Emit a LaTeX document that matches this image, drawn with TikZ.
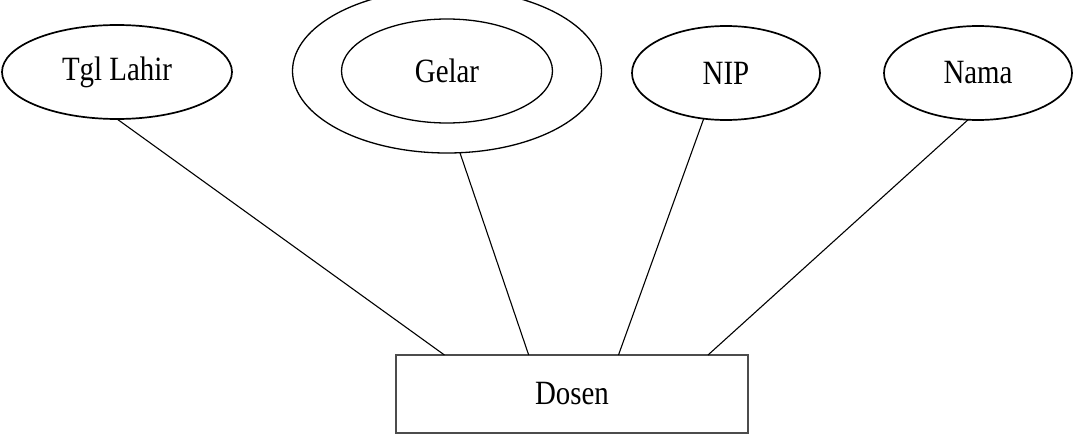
\documentclass[tikz,border=0pt]{standalone}
\usepackage{fontspec}
\setmainfont{Liberation Serif}[FakeStretch=0.85]
\usetikzlibrary{shapes.geometric}
\begin{document}
\begin{tikzpicture}[x=1pt, y=-1pt, every node/.style={font=\fontsize{34}{40}\selectfont, inner sep=0pt, outer sep=0pt},
    attr/.style={draw, ellipse, line width=1.7pt, minimum width=188pt, minimum height=94pt},
    link/.style={line width=1.1pt}]
    \useasboundingbox (0,0) rectangle (1080,444);
    \node[attr, minimum width=230pt] (tgllahir) at (117,72) {Tgl Lahir};
    \node[draw, ellipse, line width=1.3pt, minimum width=309pt, minimum height=164pt] (gelarouter) at (447,71) {};
    \node[draw, ellipse, line width=1.3pt, minimum width=211pt, minimum height=104pt] (gelar) at (447,71) {Gelar};
    \node[attr] (nip) at (726,73) {NIP};
    \node[attr] (nama) at (978,73) {Nama};
    \node[draw=black!70, rectangle, line width=1.8pt, minimum width=352pt, minimum height=78pt] (dosen) at (572,394) {Dosen};
    \draw[link] (tgllahir.south) -- (dosen.163.5);
    \draw[link] (gelarouter.279) -- (dosen.138.4);
    \draw[link] (nip.244) -- (dosen.40.3);
    \draw[link] (nama.258) -- (dosen.16.3);
\end{tikzpicture}
\end{document}
